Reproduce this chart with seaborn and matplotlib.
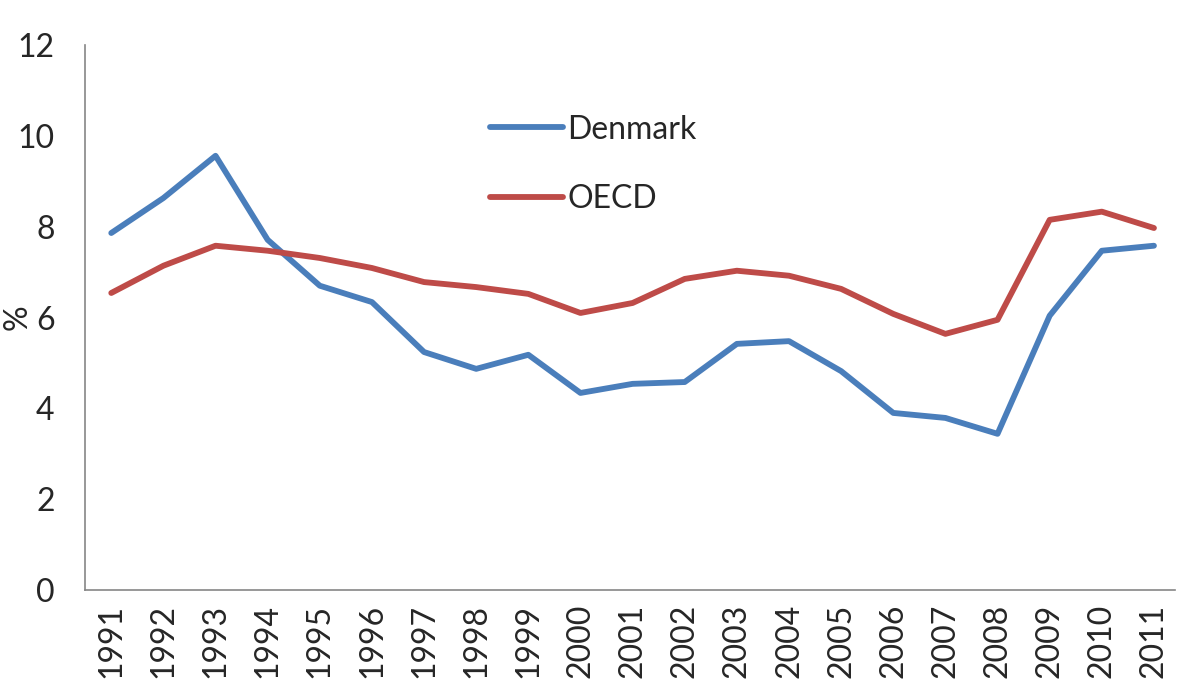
import pandas as pd
import matplotlib.pyplot as plt
import seaborn as sns
from matplotlib.ticker import FixedLocator

# data
years = [str(y) for y in range(1991, 2012)]
denmark = [7.86, 8.63, 9.56, 7.71, 6.70, 6.34, 5.24, 4.87, 5.18, 4.34, 4.54,
           4.58, 5.42, 5.48, 4.82, 3.90, 3.79, 3.44, 6.04, 7.47, 7.58]
oecd = [6.54, 7.14, 7.58, 7.47, 7.31, 7.09, 6.78, 6.67, 6.52, 6.10, 6.32,
        6.85, 7.03, 6.92, 6.63, 6.08, 5.64, 5.95, 8.15, 8.33, 7.97]

df = pd.DataFrame({
    "pos": list(range(len(years))) * 2,
    "value": denmark + oecd,
    "series": ["Denmark"] * len(years) + ["OECD"] * len(years),
})

sns.set_style("white")
plt.rcParams["font.family"] = ["Lato", "DejaVu Sans"]

fig = plt.figure(figsize=(12, 6.91), dpi=100)
ax = fig.add_axes([0.071, 0.146, 0.908, 0.789])

sns.lineplot(data=df, x="pos", y="value", hue="series",
             palette={"Denmark": "#4A7EBB", "OECD": "#BE4B48"},
             linewidth=4.2, ax=ax)

ax.set_xlim(-0.5, 20.4)
ax.set_ylim(0, 12)
ax.set_yticks(range(0, 13, 2))
ax.set_xticks(range(len(years)))
ax.set_xticklabels(years, rotation=90, fontsize=23)
ax.xaxis.set_minor_locator(FixedLocator([i - 0.5 for i in range(len(years))]))
ax.tick_params(axis="x", which="major", length=0, pad=10)
ax.tick_params(axis="x", which="minor", length=12, width=1.2, color="#868686", direction="out")
ax.tick_params(axis="y", length=8, width=1.2, color="#868686", direction="out", labelsize=23, pad=14)
ax.set_xlabel("")
ax.set_ylabel("%", fontsize=23)
ax.yaxis.set_label_coords(-0.048, 0.5)

for s in ["top", "right"]:
    ax.spines[s].set_visible(False)
for s in ["left", "bottom"]:
    ax.spines[s].set_color("#868686")
    ax.spines[s].set_linewidth(1.2)

ax.legend(title=None, frameon=False, fontsize=23, loc="upper left",
          bbox_to_anchor=(0.345, 0.925), handlelength=2.3, handletextpad=0.12,
          labelspacing=1.25)

fig.savefig("out.png", dpi=100)
